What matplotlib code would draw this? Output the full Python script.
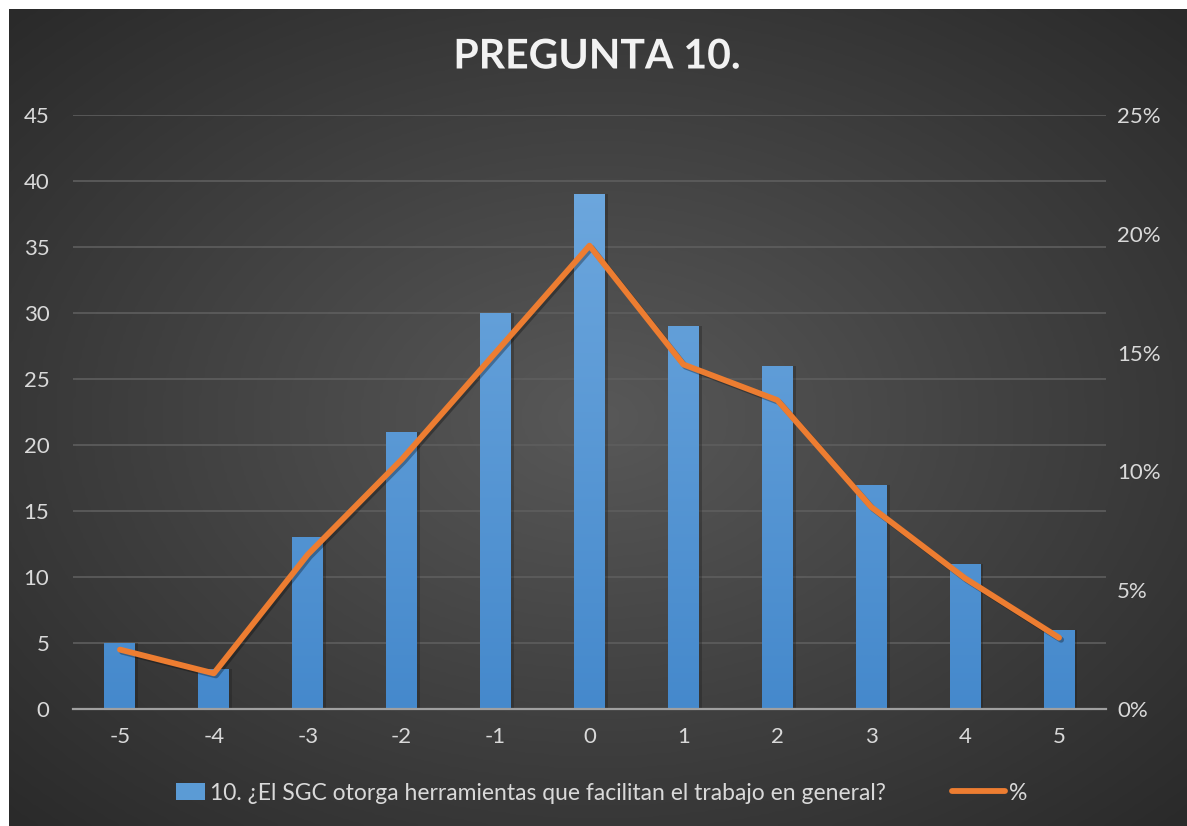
import numpy as np
import matplotlib
matplotlib.use("Agg")
import matplotlib.pyplot as plt
import matplotlib.patheffects as pe
from matplotlib.colors import LinearSegmentedColormap
from matplotlib.lines import Line2D
from matplotlib.patches import Patch, Rectangle
from matplotlib.legend_handler import HandlerPatch

categories = ["-5", "-4", "-3", "-2", "-1", "0", "1", "2", "3", "4", "5"]
counts = [5, 3, 13, 21, 30, 39, 29, 26, 17, 11, 6]
percents = [2.5, 1.5, 6.5, 10.5, 15.0, 19.5, 14.5, 13.0, 8.5, 5.5, 3.0]
left_ticks = [0, 5, 10, 15, 20, 25, 30, 35, 40, 45]
right_ticks = [0, 5, 10, 15, 20, 25]
title = "PREGUNTA 10."
bar_label = "10. ¿El SGC otorga herramientas que facilitan el trabajo en general?"
line_label = "%"

plt.rcParams['font.family'] = ['Lato', 'DejaVu Sans']

W, H = 1187, 826
fig = plt.figure(figsize=(W / 100, H / 100), dpi=100)
fig.patch.set_facecolor('white')

# background with radial gradient
bg = fig.add_axes([9 / W, 0, (W - 9) / W, (H - 9) / H])
bg.set_axis_off()
yy, xx = np.mgrid[0:1:300j, 0:1:400j]
r = np.sqrt(((xx - 0.5) / 0.75) ** 2 + ((yy - 0.5) / 0.75) ** 2)
r = np.clip(r / 0.95, 0, 1)
cmap_bg = LinearSegmentedColormap.from_list('bg', ['#585858', '#2a2a2a'])
bg.imshow(r, cmap=cmap_bg, aspect='auto', extent=[0, 1, 0, 1], interpolation='bicubic')
bg.set_xlim(0, 1)
bg.set_ylim(0, 1)

ax = fig.add_axes([73 / W, 1 - 709 / H, (1106 - 73) / W, (709 - 115) / H])
ax.set_facecolor('none')
x = np.arange(len(categories))

# soft shadow
ax.bar(x + 0.03, counts, width=0.33, color='#1e1e1e', alpha=0.35, zorder=2)
bars = ax.bar(x, counts, width=0.33, color='#5b9bd5', zorder=3, label=bar_label)
cmap_bar = LinearSegmentedColormap.from_list('bar', ['#4589cc', '#72abe0'])
grad = np.linspace(0, 1, 256).reshape(-1, 1)
for b in bars:
    im = ax.imshow(grad, cmap=cmap_bar, aspect='auto', origin='lower',
                   extent=[b.get_x(), b.get_x() + b.get_width(), 0, 45],
                   zorder=3.1, interpolation='bicubic')
    im.set_clip_path(b)

ax.set_xlim(-0.5, len(categories) - 0.5)
ax.set_ylim(0, 45)
ax.set_yticks(left_ticks)
ax.set_xticks(x)
ax.set_xticklabels(categories)
ax.grid(axis='y', color='#5e5e5e', linewidth=1.2, zorder=1)
ax.set_axisbelow(True)
for s in ['top', 'left', 'right']:
    ax.spines[s].set_visible(False)
ax.spines['bottom'].set_color('#a0a0a0')
ax.spines['bottom'].set_linewidth(1.6)
ax.spines['bottom'].set_zorder(4)
ax.tick_params(axis='both', length=0, colors='#d9d9d9', labelsize=16)
ax.tick_params(axis='y', pad=17)
ax.tick_params(axis='x', pad=13)

ax2 = ax.twinx()
ax2.set_ylim(0, 25)
ax2.set_yticks(right_ticks)
ax2.set_yticklabels([f"{t}%" for t in right_ticks])
for s in ['top', 'left', 'right', 'bottom']:
    ax2.spines[s].set_visible(False)
ax2.tick_params(axis='y', length=0, colors='#d9d9d9', labelsize=16, pad=8)
ax2.plot(x, percents, color='#ed7d31', linewidth=4.2, solid_joinstyle='round',
         solid_capstyle='round', zorder=5,
         path_effects=[pe.SimpleLineShadow(offset=(1.5, -1.5), shadow_color='#000000', alpha=0.3),
                       pe.Normal()])

fig.text(597 / W, 1 - 57 / H, title, ha='center', va='center', fontsize=29.5,
         fontweight='bold', color='#f2f2f2',
         path_effects=[pe.SimpleLineShadow(offset=(1.5, -1.5), alpha=0.5), pe.Normal()])


def small_patch(legend, orig_handle, xdescent, ydescent, width, height, fontsize):
    w = 0.55 * width
    return Rectangle((width - w - xdescent, -ydescent), w, height)


handles = [Patch(facecolor='#5b9bd5', edgecolor='none'),
           Line2D([0], [0], color='#ed7d31', linewidth=4.2, solid_capstyle='round')]
leg = fig.legend(handles, [bar_label, line_label], loc='center',
                 bbox_to_anchor=(590 / W, 1 - 793 / H), ncol=2, frameon=False,
                 fontsize=16.5, labelcolor='#d9d9d9', handlelength=2.3, handleheight=0.7,
                 handletextpad=0.2, columnspacing=2.9,
                 handler_map={Patch: HandlerPatch(patch_func=small_patch)})

fig.savefig('out.png', dpi=100, facecolor=fig.get_facecolor())
